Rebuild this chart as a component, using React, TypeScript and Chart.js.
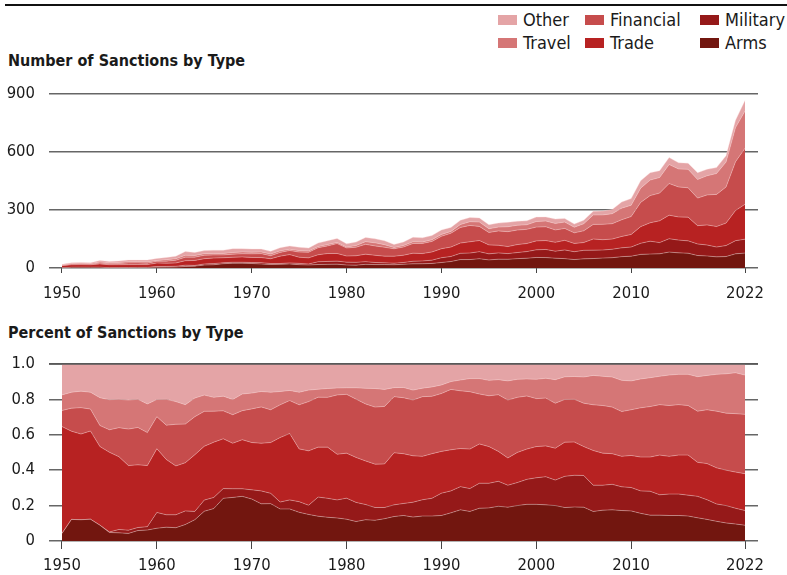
import React, { useEffect, useRef } from 'react';
import { Chart, registerables } from 'chart.js';
Chart.register(...registerables);

const FONT = "'DejaVu Sans Condensed', 'Liberation Sans Narrow', 'Arial Narrow', sans-serif";

// Years covered
const years: number[] = Array.from({ length: 73 }, (_, i) => 1950 + i);
const xTickYears = [1950, 1960, 1970, 1980, 1990, 2000, 2010, 2022];

// Total number of sanctions per year
const totalSanctions = [
  19, 27, 29, 27, 39, 34, 36, 41, 41, 41,
  49, 54, 61, 85, 80, 90, 92, 92, 100, 100,
  98, 98, 86, 105, 114, 107, 103, 129, 141, 153,
  125, 134, 158, 151, 141, 122, 134, 159, 156, 168,
  197, 210, 247, 261, 259, 224, 232, 236, 242, 244,
  263, 264, 253, 256, 227, 247, 293, 295, 303, 341,
  359, 451, 493, 503, 571, 544, 542, 493, 510, 519,
  580, 764, 866,
];

// Share of each sanction type (percent)
const armsShare = [
  4.3, 12.2, 12.0, 12.3, 8.9, 4.8, 4.6, 4.3, 5.9, 6.2,
  7.2, 7.8, 7.5, 9.3, 12.0, 16.8, 18.3, 24.1, 24.6, 25.2,
  23.7, 21.0, 21.1, 18.1, 18.1, 16.2, 15.0, 14.0, 13.4, 13.0,
  12.3, 11.0, 12.0, 11.7, 12.6, 13.8, 14.4, 13.5, 14.1, 14.1,
  14.4, 15.9, 17.6, 16.7, 18.5, 18.7, 19.6, 19.1, 20.0, 20.7,
  20.7, 20.4, 20.0, 18.9, 19.2, 19.1, 16.7, 17.4, 17.6, 17.2,
  17.0, 15.6, 14.6, 14.6, 14.4, 14.4, 14.1, 13.1, 12.2, 11.1,
  10.2, 9.6, 8.9,
];
const militaryShare = [
  0, 0, 0, 0, 0, 0.3, 1.9, 1.8, 1.7, 1.9,
  8.9, 7.0, 7.3, 7.7, 4.7, 6.3, 6.3, 5.5, 4.9, 4.3,
  5.2, 7.3, 5.8, 3.9, 5.1, 6.0, 5.2, 10.8, 10.7, 10.2,
  11.9, 10.8, 8.6, 7.2, 6.3, 6.6, 6.8, 8.4, 9.2, 10.0,
  12.6, 12.4, 13.1, 12.9, 14.1, 13.9, 14.1, 12.4, 13.0, 14.1,
  15.0, 15.9, 14.4, 17.6, 17.9, 17.9, 14.8, 14.1, 14.4, 13.4,
  13.2, 12.7, 13.5, 11.5, 12.1, 12.1, 11.8, 12.1, 11.1, 9.8,
  9.8, 8.9, 8.3,
];
const tradeShare = [
  60.3, 49.8, 48.4, 49.8, 44.4, 45.0, 41.1, 36.5, 35.4, 34.5,
  36.0, 31.2, 27.6, 27.2, 32.0, 30.4, 31.2, 28.1, 25.7, 27.7,
  26.7, 26.9, 28.7, 36.4, 37.5, 29.8, 30.7, 28.2, 28.9, 25.8,
  25.4, 25.4, 24.6, 24.5, 24.6, 29.4, 28.1, 26.2, 24.5, 25.2,
  23.6, 23.2, 21.5, 22.3, 22.2, 20.7, 16.9, 15.4, 17.0, 17.1,
  17.6, 17.4, 18.0, 19.3, 18.8, 16.3, 19.6, 18.1, 17.3, 17.2,
  18.1, 19.1, 19.3, 22.4, 21.3, 22.0, 22.6, 19.2, 20.4, 20.4,
  20.0, 20.4, 20.8,
];
const financialShare = [
  9.1, 13.0, 14.9, 12.4, 11.9, 12.7, 16.4, 20.6, 21.1, 18.6,
  18.1, 19.4, 23.5, 21.8, 21.5, 19.7, 17.5, 15.8, 16.1, 16.4,
  19.0, 20.5, 18.5, 18.5, 18.6, 24.9, 27.8, 28.2, 28.1, 33.5,
  33.2, 32.9, 32.2, 32.2, 32.5, 31.7, 31.6, 31.5, 33.7, 32.4,
  32.7, 34.1, 32.6, 32.4, 28.2, 28.7, 32.0, 32.7, 31.1, 30.0,
  27.1, 27.0, 25.4, 24.1, 24.1, 24.5, 25.8, 26.9, 26.3, 25.3,
  25.8, 27.8, 28.5, 28.5, 28.7, 28.5, 28.0, 28.9, 30.4, 32.0,
  32.2, 33.0, 33.5,
];
const travelShare = [
  8.8, 9.0, 9.3, 9.5, 15.7, 17.0, 16.0, 16.4, 15.9, 16.2,
  9.7, 14.6, 12.8, 11.0, 10.5, 9.2, 7.8, 8.3, 8.6, 9.4,
  8.9, 8.7, 9.9, 7.5, 5.7, 7.1, 6.5, 4.5, 5.0, 3.9,
  3.7, 6.4, 8.8, 10.5, 9.6, 5.1, 5.8, 5.6, 4.8, 5.3,
  4.8, 4.4, 6.1, 7.4, 8.7, 8.7, 8.5, 10.8, 10.2, 9.6,
  10.9, 11.2, 13.3, 12.8, 12.9, 14.8, 16.6, 16.5, 17.0, 17.6,
  16.3, 16.3, 16.3, 16.0, 17.2, 17.1, 17.6, 19.5, 19.4, 20.8,
  22.2, 23.1, 22.2,
];
const otherShare = [
  17.5, 16.0, 15.4, 16.0, 19.1, 20.2, 20.0, 20.4, 20.0, 22.6,
  20.1, 20.0, 21.3, 23.0, 19.3, 17.6, 18.9, 18.2, 20.1, 17.0,
  16.5, 15.6, 16.0, 15.6, 15.0, 16.0, 14.8, 14.3, 13.9, 13.6,
  13.5, 13.5, 13.8, 13.9, 14.4, 13.4, 13.3, 14.8, 13.7, 13.0,
  11.9, 10.0, 9.1, 8.3, 8.3, 9.3, 8.9, 9.6, 8.7, 8.5,
  8.7, 8.1, 8.9, 7.3, 7.1, 7.4, 6.5, 7.0, 7.4, 9.3,
  9.6, 8.5, 7.8, 7.0, 6.3, 5.9, 5.9, 7.2, 6.5, 5.9,
  5.6, 5.0, 6.3,
];

// stacking order: bottom to top
const seriesNames = ['Arms', 'Military', 'Trade', 'Financial', 'Travel', 'Other'];
const seriesColors = ['#72160f', '#951919', '#b72222', '#c64c4c', '#d57676', '#e4a4a6'];
const seriesShares = [armsShare, militaryShare, tradeShare, financialShare, travelShare, otherShare];

const shareSum = years.map((_, i) => seriesShares.reduce((a, s) => a + s[i], 0));
const seriesFraction = seriesShares.map((s) => s.map((v, i) => v / shareSum[i]));
const seriesCounts = seriesFraction.map((s) => s.map((v, i) => v * totalSanctions[i]));

// legend layout (column-major)
const legendOrder = [
  ['Other', 'Travel'],
  ['Financial', 'Trade'],
  ['Military', 'Arms'],
];

const X_MIN = 1948.63;
const X_MAX = 2023.37;
const TICK_SIZE = 16.5;

function buildConfig(values: number[][], yMax: number, step: number, percent: boolean, tickLen: number, tickPad: number, xHeight: number): any {
  const topLine = {
    id: 'topLine',
    afterDatasetsDraw(chart: any) {
      if (!percent) return;
      const { ctx, chartArea, scales } = chart;
      const y = scales.y.getPixelForValue(yMax);
      ctx.save();
      ctx.strokeStyle = '#555';
      ctx.lineWidth = 1.5;
      ctx.beginPath();
      ctx.moveTo(chartArea.left, y);
      ctx.lineTo(chartArea.right, y);
      ctx.stroke();
      ctx.restore();
    },
  };
  return {
    type: 'line',
    data: {
      datasets: values.map((vals, k) => ({
        label: seriesNames[k],
        data: years.map((yr, i) => ({ x: yr, y: vals[i] })),
        backgroundColor: seriesColors[k],
        borderColor: 'rgba(255,225,225,0.45)',
        borderWidth: 0.8,
        fill: k === 0 ? 'origin' : '-1',
        pointRadius: 0,
        tension: 0,
      })),
    },
    options: {
      animation: false,
      responsive: false,
      maintainAspectRatio: false,
      layout: { padding: { top: 21, right: 29, left: 0, bottom: 0 } },
      plugins: { legend: { display: false }, tooltip: { enabled: false } },
      scales: {
        x: {
          type: 'linear',
          min: X_MIN,
          max: X_MAX,
          afterBuildTicks: (axis: any) => {
            axis.ticks = xTickYears.map((v) => ({ value: v }));
          },
          afterFit: (s: any) => {
            s.height = xHeight;
          },
          grid: { drawOnChartArea: false, drawTicks: true, tickLength: tickLen, color: '#444', lineWidth: 1 },
          border: { display: false },
          ticks: {
            color: '#1a1a1a',
            font: { family: FONT, size: TICK_SIZE },
            padding: tickPad,
            maxRotation: 0,
            autoSkip: false,
            callback: (v: any) => String(v),
          },
        },
        y: {
          stacked: true,
          min: 0,
          max: yMax,
          afterFit: (s: any) => {
            s.width = 49;
          },
          ticks: {
            stepSize: step,
            color: '#1a1a1a',
            font: { family: FONT, size: TICK_SIZE },
            padding: 14,
            callback: (v: any) => (percent ? (v === 0 ? '0' : Number(v).toFixed(1)) : String(v)),
          },
          grid: { color: '#666', lineWidth: 1.5, drawTicks: false },
          border: { display: false },
        },
      },
    },
    plugins: [topLine],
  };
}

export default function App() {
  const topRef = useRef<HTMLCanvasElement>(null);
  const botRef = useRef<HTMLCanvasElement>(null);

  useEffect(() => {
    document.body.style.margin = '0';
    const c1 = new Chart(topRef.current as HTMLCanvasElement, buildConfig(seriesCounts, 900, 300, false, 5, 11, 40));
    const c2 = new Chart(botRef.current as HTMLCanvasElement, buildConfig(seriesFraction, 1, 0.2, true, 8, 7, 34));
    return () => {
      c1.destroy();
      c2.destroy();
    };
  }, []);

  const colorOf = (name: string) => seriesColors[seriesNames.indexOf(name)];
  const legendLeft = [498, 585, 700];
  const legendTop = [20, 43];

  return (
    <div style={{ position: 'absolute', left: 0, top: 0, width: 787, height: 575, overflow: 'hidden', fontFamily: FONT, color: '#1a1a1a', background: '#fff' }}>
      <div style={{ position: 'absolute', left: 5, top: 4, width: 782, height: 2, background: '#111' }} />
      {legendOrder.map((col, ci) =>
        col.map((name, ri) => (
          <div key={name} style={{ position: 'absolute', left: legendLeft[ci], top: legendTop[ri] - 12, height: 24, display: 'flex', alignItems: 'center', whiteSpace: 'nowrap' }}>
            <span style={{ display: 'inline-block', width: 19, height: 10, background: colorOf(name), marginRight: 6 }} />
            <span style={{ fontSize: 18, lineHeight: '24px' }}>{name}</span>
          </div>
        ))
      )}
      <div style={{ position: 'absolute', left: 8, top: 51, fontSize: 16, lineHeight: '20px', fontWeight: 'bold' }}>Number of Sanctions by Type</div>
      <div style={{ position: 'absolute', left: 8, top: 323, fontSize: 16, lineHeight: '20px', fontWeight: 'bold' }}>Percent of Sanctions by Type</div>
      <canvas ref={topRef} width={787} height={238} style={{ position: 'absolute', left: 0, top: 70, width: 787, height: 238 }} />
      <canvas ref={botRef} width={787} height={235} style={{ position: 'absolute', left: 0, top: 340, width: 787, height: 235 }} />
    </div>
  );
}
